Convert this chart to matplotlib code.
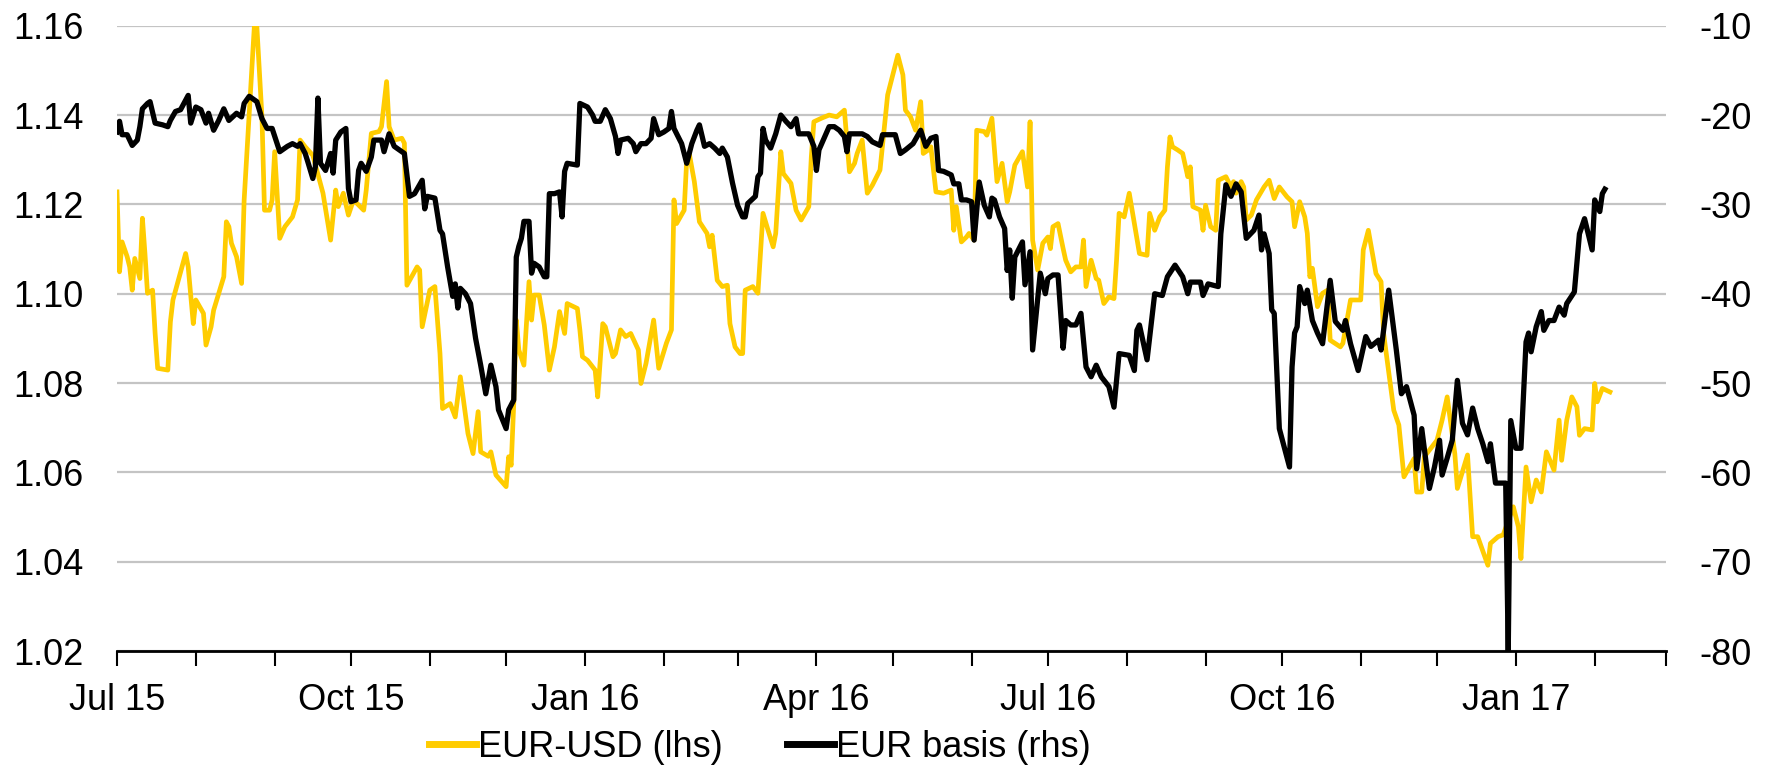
import pandas as pd
import matplotlib
matplotlib.use('Agg')
import matplotlib.pyplot as plt
import matplotlib.dates as mdates

plt.rcParams['font.family'] = ['Liberation Sans', 'DejaVu Sans']
plt.rcParams['axes.unicode_minus'] = False

START = '2015-07-01'

# EUR-USD spot (lhs), days counted from START
usd_days = [0, 1, 2, 4, 5, 6, 7, 9, 10, 11, 12, 14, 15, 16, 20, 21, 22, 27, 28, 30,
            31, 34, 35, 37, 38, 42, 43, 44, 45, 47, 49, 50, 54, 55, 57, 58, 60, 61, 62, 64,
            66, 69, 71, 72, 74, 77, 81, 84, 86, 87, 89, 91, 93, 97, 98, 100, 103, 104, 106, 107,
            109, 112, 113, 114, 118, 119, 120, 123, 125, 127, 128, 131, 133, 135, 138, 140, 142, 143, 146, 147,
            149, 153, 154, 155, 156, 157, 158, 160, 162, 163, 164, 166, 168, 170, 172, 174, 176, 177, 181, 182,
            183, 185, 188, 189, 191, 192, 195, 196, 198, 200, 202, 205, 206, 208, 211, 213, 216, 218, 219, 220,
            223, 224, 225, 227, 229, 232, 233, 234, 236, 238, 240, 241, 243, 245, 246, 247, 250, 252, 254, 256,
            258, 259, 261, 262, 265, 267, 269, 272, 273, 274, 277, 280, 283, 286, 288, 290, 291, 293, 295, 297,
            300, 303, 307, 309, 310, 312, 314, 316, 317, 319, 320, 322, 325, 328, 329, 330, 332, 334, 335, 337,
            338, 341, 342, 344, 346, 348, 350, 351, 353, 356, 358, 359, 360, 362, 364, 366, 367, 368, 370, 372,
            373, 375, 377, 379, 380, 381, 383, 385, 386, 388, 390, 392, 393, 394, 396, 398, 400, 402, 405, 406,
            408, 410, 412, 413, 414, 415, 417, 419, 421, 422, 423, 426, 427, 428, 430, 432, 433, 436, 438, 439,
            440, 442, 443, 444, 446, 448, 451, 453, 455, 457, 460, 462, 463, 465, 467, 468, 469, 470, 472, 474,
            476, 477, 481, 482, 485, 489, 490, 492, 495, 497, 498, 502, 504, 506, 510, 511, 513, 514, 517, 519,
            521, 523, 526, 527, 531, 533, 535, 539, 540, 543, 545, 549, 551, 552, 554, 556, 558, 560, 562, 565,
            567, 568, 570, 572, 574, 575, 577, 580, 581, 582, 584, 587]
usd_vals = [1.1228, 1.1049, 1.1116, 1.1083, 1.1060, 1.1008, 1.1079, 1.1034, 1.1169, 1.1090,
            1.1001, 1.1008, 1.0911, 1.0833, 1.0829, 1.0937, 1.0986, 1.1090, 1.1060, 1.0933,
            1.0986, 1.0956, 1.0885, 1.0926, 1.0963, 1.1038, 1.1161, 1.1150, 1.1113, 1.1083,
            1.1023, 1.1210, 1.1598, 1.1598, 1.1396, 1.1187, 1.1187, 1.1210, 1.1318, 1.1124,
            1.1150, 1.1172, 1.1210, 1.1344, 1.1329, 1.1310, 1.1225, 1.1120, 1.1232, 1.1195,
            1.1225, 1.1176, 1.1210, 1.1187, 1.1232, 1.1359, 1.1363, 1.1374, 1.1475, 1.1374,
            1.1344, 1.1348, 1.1337, 1.1019, 1.1060, 1.1053, 1.0926, 1.1008, 1.1016, 1.0866,
            1.0743, 1.0754, 1.0724, 1.0814, 1.0687, 1.0642, 1.0736, 1.0646, 1.0636, 1.0646,
            1.0594, 1.0568, 1.0635, 1.0616, 1.0754, 1.0941, 1.0874, 1.0840, 1.1027, 1.0941,
            1.0997, 1.0997, 1.0930, 1.0829, 1.0881, 1.0960, 1.0911, 1.0978, 1.0967, 1.0919,
            1.0859, 1.0851, 1.0829, 1.0769, 1.0933, 1.0926, 1.0859, 1.0866, 1.0919, 1.0904,
            1.0911, 1.0874, 1.0799, 1.0844, 1.0941, 1.0833, 1.0889, 1.0919, 1.1210, 1.1157,
            1.1187, 1.1299, 1.1314, 1.1251, 1.1161, 1.1135, 1.1105, 1.1131, 1.1030, 1.1016,
            1.1019, 1.0933, 1.0881, 1.0866, 1.0866, 1.1008, 1.1016, 1.1001, 1.1180, 1.1142,
            1.1105, 1.1135, 1.1318, 1.1269, 1.1247, 1.1187, 1.1165, 1.1195, 1.1307, 1.1385,
            1.1393, 1.1400, 1.1396, 1.1411, 1.1273, 1.1292, 1.1314, 1.1344, 1.1225, 1.1243,
            1.1277, 1.1445, 1.1534, 1.1490, 1.1411, 1.1396, 1.1366, 1.1430, 1.1314, 1.1322,
            1.1329, 1.1228, 1.1225, 1.1232, 1.1142, 1.1195, 1.1116, 1.1127, 1.1135, 1.1120,
            1.1366, 1.1363, 1.1355, 1.1393, 1.1251, 1.1292, 1.1206, 1.1228, 1.1288, 1.1318,
            1.1239, 1.1385, 1.1120, 1.1053, 1.1113, 1.1127, 1.1101, 1.1150, 1.1157, 1.1101,
            1.1075, 1.1049, 1.1060, 1.1060, 1.1120, 1.1016, 1.1075, 1.1034, 1.1030, 1.0978,
            1.0993, 1.0989, 1.1075, 1.1180, 1.1172, 1.1225, 1.1157, 1.1090, 1.1086, 1.1180,
            1.1142, 1.1172, 1.1187, 1.1284, 1.1351, 1.1329, 1.1322, 1.1314, 1.1262, 1.1284,
            1.1195, 1.1187, 1.1142, 1.1198, 1.1150, 1.1142, 1.1254, 1.1262, 1.1239, 1.1251,
            1.1225, 1.1251, 1.1239, 1.1165, 1.1176, 1.1210, 1.1239, 1.1254, 1.1213, 1.1239,
            1.1217, 1.1206, 1.1150, 1.1206, 1.1172, 1.1135, 1.1038, 1.1057, 1.0971, 1.1001,
            1.1008, 1.0896, 1.0881, 1.0889, 1.0986, 1.0986, 1.1098, 1.1142, 1.1045, 1.1027,
            1.0911, 1.0739, 1.0706, 1.0590, 1.0631, 1.0556, 1.0556, 1.0635, 1.0657, 1.0672,
            1.0717, 1.0769, 1.0642, 1.0564, 1.0639, 1.0456, 1.0456, 1.0392, 1.0441, 1.0456,
            1.0460, 1.0523, 1.0478, 1.0407, 1.0612, 1.0534, 1.0583, 1.0556, 1.0646, 1.0605,
            1.0717, 1.0627, 1.0717, 1.0769, 1.0747, 1.0683, 1.0698, 1.0695, 1.0799, 1.0758,
            1.0788, 1.0780]

# EUR cross-currency basis (rhs), days counted from START
basis_days = [0, 1, 2, 4, 6, 8, 9, 10, 12, 13, 15, 18, 20, 21, 23, 25, 28, 29, 31, 33,
              35, 36, 38, 40, 42, 44, 47, 49, 50, 52, 55, 57, 59, 61, 64, 67, 69, 71, 72, 74,
              75, 77, 78, 79, 80, 81, 82, 84, 85, 86, 88, 90, 91, 92, 94, 95, 96, 98, 100, 101,
              104, 105, 107, 109, 112, 113, 115, 117, 120, 121, 122, 125, 127, 128, 130, 132, 133, 134, 135, 137,
              139, 141, 143, 145, 147, 149, 150, 153, 154, 156, 157, 158, 159, 160, 162, 163, 164, 166, 168, 169,
              170, 172, 174, 175, 176, 177, 181, 182, 185, 187, 188, 190, 192, 194, 196, 197, 198, 201, 203, 204,
              206, 208, 210, 211, 213, 215, 217, 218, 219, 222, 224, 226, 228, 229, 231, 233, 235, 237, 238, 240,
              242, 244, 246, 247, 248, 251, 252, 253, 254, 255, 257, 259, 261, 263, 265, 267, 268, 272, 274, 275,
              276, 278, 280, 282, 284, 286, 287, 288, 293, 295, 297, 300, 301, 306, 308, 310, 313, 316, 318, 320,
              322, 323, 325, 328, 329, 331, 332, 334, 336, 337, 339, 341, 343, 344, 345, 347, 349, 350, 351, 352,
              353, 356, 357, 359, 360, 363, 365, 366, 368, 370, 372, 373, 375, 377, 379, 381, 383, 385, 387, 390,
              392, 394, 398, 400, 401, 402, 405, 407, 408, 411, 413, 416, 419, 421, 422, 426, 427, 429, 433, 434,
              436, 438, 440, 442, 444, 447, 449, 450, 451, 453, 454, 455, 457, 461, 462, 463, 464, 465, 467, 468,
              470, 472, 474, 477, 479, 482, 483, 485, 488, 491, 493, 496, 497, 500, 503, 505, 507, 510, 511, 513,
              516, 518, 520, 521, 523, 525, 527, 529, 531, 533, 535, 537, 539, 540, 542, 546, 547, 548, 550, 552,
              554, 555, 556, 558, 560, 561, 563, 565, 567, 569, 570, 573, 575, 577, 580, 581, 583, 584, 585]
basis_vals = [-21.9, -20.7, -22.2, -22.2, -23.4, -22.8, -21.3, -19.3, -18.7, -18.5,
              -20.9, -21.1, -21.3, -20.6, -19.6, -19.4, -17.8, -20.9, -19.1, -19.4,
              -20.9, -19.8, -21.7, -20.6, -19.3, -20.6, -19.8, -20.2, -18.7, -17.9,
              -18.5, -20.4, -21.5, -21.5, -24.1, -23.5, -23.2, -23.5, -23.2, -24.3,
              -25.2, -27.1, -25.8, -18.1, -25.4, -25.8, -26.2, -24.3, -26.5, -22.8,
              -21.9, -21.5, -28.2, -29.7, -29.5, -26.2, -25.4, -26.3, -24.7, -22.8,
              -22.8, -24.1, -22.1, -23.5, -24.1, -24.3, -29.1, -28.8, -27.3, -30.5,
              -29.1, -29.3, -32.9, -33.3, -37.0, -40.3, -38.9, -41.6, -39.4, -40.0,
              -41.1, -45.0, -48.0, -51.2, -48.0, -50.4, -53.0, -55.1, -53.0, -51.9,
              -35.9, -34.7, -33.8, -31.9, -31.9, -37.7, -36.6, -37.0, -38.1, -38.1,
              -28.8, -28.8, -28.6, -31.4, -26.3, -25.4, -25.6, -18.7, -19.1, -20.0,
              -20.7, -20.7, -19.4, -20.4, -22.4, -24.3, -22.8, -22.6, -23.2, -24.1,
              -23.2, -23.2, -22.6, -20.4, -22.2, -21.9, -21.5, -19.6, -21.5, -23.2,
              -25.4, -23.2, -21.7, -21.1, -23.5, -23.2, -23.7, -24.3, -23.7, -24.7,
              -27.6, -30.1, -31.4, -31.4, -29.9, -29.1, -26.9, -26.5, -21.5, -22.8,
              -23.7, -22.1, -20.0, -20.7, -21.3, -20.4, -22.1, -22.1, -23.5, -26.2,
              -23.9, -22.6, -21.3, -21.3, -21.7, -22.4, -24.1, -22.1, -22.1, -22.4,
              -23.0, -23.4, -22.2, -22.2, -24.3, -23.9, -23.2, -21.7, -23.5, -22.6,
              -22.4, -26.2, -26.3, -26.7, -27.7, -27.7, -29.5, -29.5, -29.7, -34.0,
              -27.5, -30.1, -31.4, -29.3, -29.5, -31.4, -32.7, -37.4, -35.1, -40.5,
              -35.9, -34.2, -39.0, -35.3, -46.3, -37.7, -40.0, -38.3, -37.9, -37.9,
              -46.1, -43.0, -43.5, -43.5, -42.2, -48.2, -49.3, -48.0, -49.3, -50.4,
              -52.7, -46.7, -46.9, -48.6, -44.1, -43.5, -47.4, -42.4, -40.0, -40.2,
              -38.1, -36.8, -38.1, -40.0, -38.7, -38.7, -40.2, -38.9, -39.2, -33.3,
              -27.8, -29.1, -27.7, -28.6, -33.8, -32.9, -31.2, -35.1, -33.3, -35.5,
              -41.8, -42.2, -55.1, -59.4, -48.2, -44.4, -43.7, -39.2, -41.1, -39.6,
              -43.0, -44.4, -45.6, -38.5, -43.1, -44.1, -43.0, -45.6, -48.6, -44.8,
              -45.9, -45.2, -46.3, -39.6, -46.3, -51.2, -50.4, -53.6, -59.6, -55.1,
              -61.8, -59.4, -56.4, -60.3, -58.4, -56.4, -49.7, -54.5, -55.8, -52.8,
              -55.1, -56.8, -58.8, -56.8, -61.2, -61.2, -80.0, -54.2, -57.3, -57.3,
              -45.4, -44.4, -46.5, -43.7, -42.0, -44.1, -43.0, -43.0, -41.5, -42.4,
              -41.1, -39.8, -33.3, -31.6, -35.1, -29.5, -30.8, -28.8, -28.3]

left_ticks = [1.02, 1.04, 1.06, 1.08, 1.10, 1.12, 1.14, 1.16]
right_ticks = [-80, -70, -60, -50, -40, -30, -20, -10]
x_range = ['2015-07-01', '2017-03-01']

start = pd.Timestamp(START)
usd_dates = start + pd.to_timedelta(usd_days, unit='D')
basis_dates = start + pd.to_timedelta(basis_days, unit='D')

FS = 26
YELLOW = '#FFCC00'

fig = plt.figure(figsize=(17.67, 7.68), dpi=100)
ax = fig.add_axes([0.0662, 0.1523, 0.8766, 0.8142])
ax2 = ax.twinx()

l1, = ax.plot(usd_dates, usd_vals, color=YELLOW, lw=3.4, solid_joinstyle='round')
l2, = ax2.plot(basis_dates, basis_vals, color='black', lw=3.8, solid_joinstyle='round')

ax.set_xlim(pd.Timestamp(x_range[0]), pd.Timestamp(x_range[1]))
ax.set_ylim(left_ticks[0], left_ticks[-1])
ax.set_yticks(left_ticks)
ax.set_yticklabels(['%.2f' % t for t in left_ticks])
ax2.set_ylim(right_ticks[0], right_ticks[-1])
ax2.set_yticks(right_ticks)
ax2.set_yticklabels([str(t) for t in right_ticks])

ax.grid(axis='y', color='#C4C4C4', lw=1.6)
ax.set_axisbelow(True)

for a in (ax, ax2):
    for s in ('top', 'left', 'right'):
        a.spines[s].set_visible(False)
ax2.spines['bottom'].set_visible(False)
ax.spines['bottom'].set_linewidth(2)
ax.spines['bottom'].set_zorder(5)

ax.xaxis.set_major_locator(mdates.MonthLocator(bymonth=[1, 4, 7, 10]))
ax.xaxis.set_minor_locator(mdates.MonthLocator())
ax.xaxis.set_major_formatter(mdates.DateFormatter('%b %y'))
ax.tick_params(axis='x', which='both', direction='out', length=11, width=1.5,
               labelsize=FS, pad=12)
ax.tick_params(axis='y', length=0, pad=24, labelsize=FS)
ax2.tick_params(axis='y', length=0, pad=24, labelsize=FS)

leg = fig.legend([l1, l2], ['EUR-USD (lhs)', 'EUR basis (rhs)'], loc='center',
                 bbox_to_anchor=(0.43, 0.027), ncol=2, frameon=False, fontsize=FS,
                 handlelength=1.3, handletextpad=0.05, columnspacing=1.8)
for h in leg.legend_handles:
    h.set_linewidth(5)

fig.savefig('out.png', dpi=100)
